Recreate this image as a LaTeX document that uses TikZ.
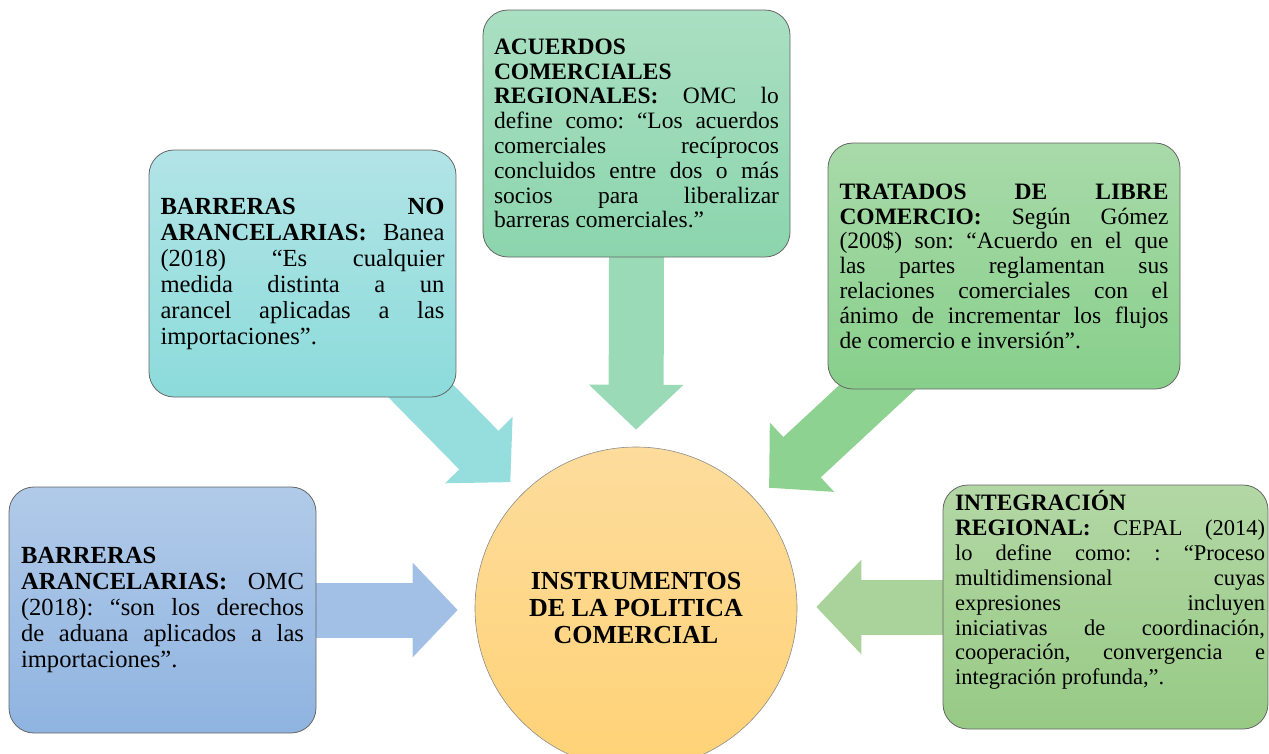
\documentclass[tikz,border=0pt]{standalone}
\usepackage{fontspec}
\setmainfont{Liberation Serif}
\usetikzlibrary{arrows.meta,backgrounds,calc}
\definecolor{acuT}{HTML}{AADFC2}\definecolor{acuB}{HTML}{8BD5AD}
\definecolor{nonT}{HTML}{B2E4E6}\definecolor{nonB}{HTML}{8CDBDB}
\definecolor{traT}{HTML}{A8DAA9}\definecolor{traB}{HTML}{88CF8B}
\definecolor{araT}{HTML}{B1CAE9}\definecolor{araB}{HTML}{8FB4E0}
\definecolor{intT}{HTML}{B3D7A5}\definecolor{intB}{HTML}{97CA85}
\definecolor{cirT}{HTML}{FDDC9C}\definecolor{cirB}{HTML}{FFD276}
\definecolor{arAcu}{HTML}{9ADAB7}\definecolor{arNon}{HTML}{96DDDD}
\definecolor{arTra}{HTML}{8ED291}\definecolor{arAra}{HTML}{A2C0E6}
\definecolor{arInt}{HTML}{AAD39B}
\tikzset{
  infobox/.style={rounded corners=25pt, draw=black!60, line width=0.8pt, inner sep=0pt, align=justify},
  fontA/.style={font=\frenchspacing\fontsize{23.5}{24.8}\selectfont},
  fontB/.style={font=\frenchspacing\fontsize{24.6}{26}\selectfont},
  fontC/.style={font=\frenchspacing\fontsize{22.5}{24.9}\selectfont},
  blockarrow/.style={line width=55pt, -{Triangle[length=45pt,width=92pt]}},
}
\newcommand{\bigbf}[1]{{\fontsize{23.5}{24.9}\selectfont\bfseries #1}}
\begin{document}
\begin{tikzpicture}[x=1pt,y=-1pt]
\useasboundingbox (0,0) rectangle (1269,753);
\clip (0,0) rectangle (1269,753);
% central circle
\node[circle, minimum size=322pt, inner sep=0pt, draw=black!45, line width=0.6pt,
      top color=cirT, bottom color=cirB, align=center,
      font=\bfseries\fontsize{26}{27}\selectfont] (circ) at (636,608)
      {INSTRUMENTOS\\DE LA POLITICA\\COMERCIAL};
% boxes
\node[infobox, fontA, top color=acuT, bottom color=acuB, minimum width=307pt, minimum height=247pt, text width=285pt] (acu) at (636.5,133.5)
 {\textbf{ACUERDOS}\linebreak \textbf{COMERCIALES}\linebreak \textbf{REGIONALES:} OMC lo\linebreak define como: “Los acuerdos\linebreak comerciales recíprocos\linebreak concluidos entre dos o más\linebreak socios para liberalizar\linebreak barreras comerciales.”};
\node[infobox, fontB, top color=nonT, bottom color=nonB, minimum width=307pt, minimum height=247pt, text width=284pt] (nonara) at (302.5,273.5)
 {\textbf{BARRERAS NO}\linebreak \textbf{ARANCELARIAS:} Banea\linebreak (2018) “Es cualquier\linebreak medida distinta a un\linebreak arancel aplicadas a las\linebreak importaciones”.};
\node[infobox, fontA, top color=traT, bottom color=traB, minimum width=352pt, minimum height=246pt, text width=329pt] (tra) at (1004,266)
 {\textbf{TRATADOS DE LIBRE}\linebreak \textbf{COMERCIO:} Según Gómez\linebreak (200\$) son: “Acuerdo en el que\linebreak las partes reglamentan sus\linebreak relaciones comerciales con el\linebreak ánimo de incrementar los flujos\linebreak de comercio e inversión”.};
\node[infobox, fontB, top color=araT, bottom color=araB, minimum width=307pt, minimum height=246pt, text width=283pt] (ara) at (162.5,610)
 {\textbf{BARRERAS}\linebreak \textbf{ARANCELARIAS:} OMC\linebreak (2018): “son los derechos\linebreak de aduana aplicados a las\linebreak importaciones”.};
\node[infobox, top color=intT, bottom color=intB, minimum width=325pt, minimum height=244pt] (integ) at (1105.5,607) {};
\node[fontC, align=justify, inner sep=0pt, text width=310pt] (integtxt) at ([xshift=4.5pt,yshift=17pt]integ.center)
 {\bigbf{INTEGRACIÓN}\linebreak \bigbf{REGIONAL:} CEPAL (2014)\linebreak lo define como: : “Proceso\linebreak multidimensional cuyas\linebreak expresiones incluyen\linebreak iniciativas de coordinación,\linebreak cooperación, convergencia e\linebreak integración profunda,”.};
% arrows
\coordinate (s2) at (406,376);
\coordinate (s3) at (897,369);
\begin{pgfonlayer}{background}
\draw[blockarrow, draw=arAcu, shorten <=-10pt, shorten >=17pt] (acu.south) -- (circ.north);
\draw[blockarrow, draw=arNon, shorten >=16.5pt] (s2) -- (circ.135);
\draw[blockarrow, draw=arTra, shorten >=18pt] (s3) -- (circ.42.5);
\draw[blockarrow, draw=arAra, shorten <=-10pt, shorten >=17pt] (ara.east) -- (ara.east -| circ.west);
\draw[blockarrow, draw=arInt, shorten <=-10pt, shorten >=19pt] (integ.west) -- (integ.west -| circ.east);
\end{pgfonlayer}
\end{tikzpicture}
\end{document}
